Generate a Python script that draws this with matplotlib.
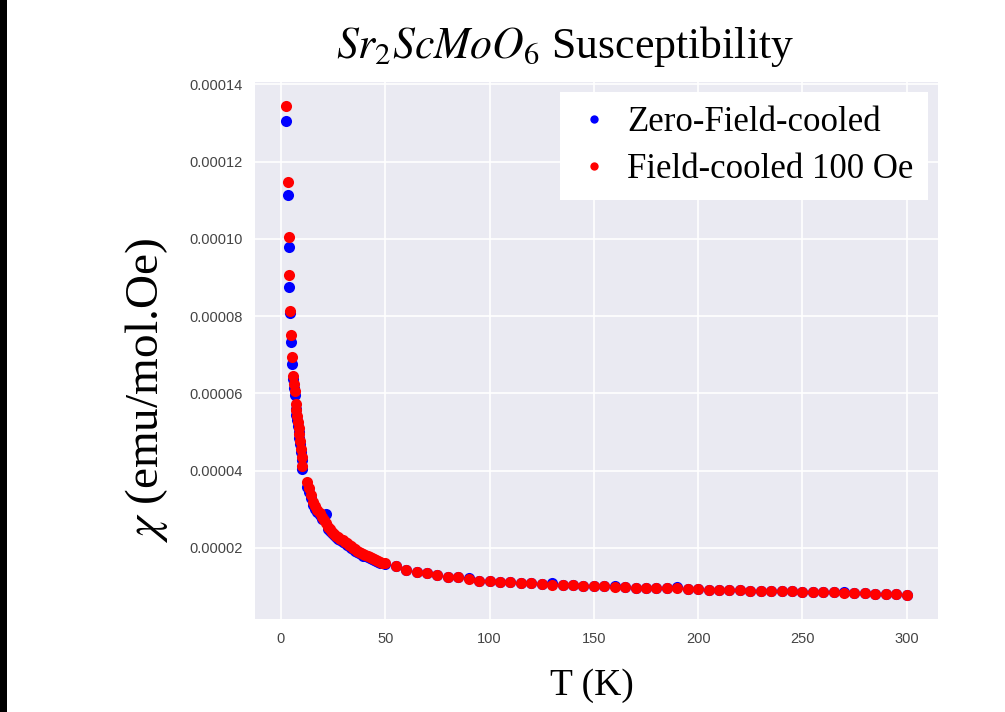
#!/usr/bin/env python
# coding: utf-8
"""
Magnetic susceptibility of Sr2ScMoO6, zero-field-cooled and field-cooled (100 Oe).
"""
import numpy as np
import matplotlib
matplotlib.use('Agg')
from matplotlib import pyplot as plt
from matplotlib.patches import Rectangle


# temperatures (K)
T_LOW = [2.4, 3.2, 3.6, 4.0, 4.4, 5.0, 5.3, 5.8, 6.2, 6.7, 7.0, 7.3, 7.6, 8.0,
         8.4, 8.8, 9.1, 9.5, 9.9, 10.3, 12.5, 13.5, 14.5, 15.5, 16.5, 17.5,
         18.5, 19.5, 20.5, 21.5, 22.5, 23.5, 24.5, 25.5, 26.5, 27.5, 28.5,
         29.5, 30.5, 31.5, 32.5, 33.5, 34.5, 35.5, 36.5, 37.5, 38.5, 39.5,
         40.5, 41.5, 42.5, 43.5, 44.5, 45.5, 46.5, 47.5, 48.5]
T_HIGH = [50, 55, 60, 65, 70, 75, 80, 85, 90, 95, 100, 105, 110, 115, 120,
          125, 130, 135, 140, 145, 150, 155, 160, 165, 170, 175, 180, 185,
          190, 195, 200, 205, 210, 215, 220, 225, 230, 235, 240, 245, 250,
          255, 260, 265, 270, 275, 280, 285, 290, 295, 300]

# field-cooled 100 Oe (emu/mol.Oe)
CHI_FC_LOW = [1.344e-4, 1.148e-4, 1.005e-4, 9.06e-5, 8.14e-5, 7.50e-5, 6.93e-5,
              6.45e-5, 6.25e-5, 6.06e-5, 5.72e-5, 5.57e-5, 5.42e-5, 5.27e-5,
              5.11e-5, 4.95e-5, 4.77e-5, 4.55e-5, 4.35e-5, 4.13e-5, 3.70e-5,
              3.55e-5, 3.38e-5, 3.20e-5, 3.08e-5, 2.98e-5, 2.90e-5, 2.80e-5,
              2.72e-5, 2.64e-5, 2.55e-5, 2.48e-5, 2.42e-5, 2.37e-5, 2.32e-5,
              2.28e-5, 2.24e-5, 2.20e-5, 2.16e-5, 2.12e-5, 2.08e-5, 2.04e-5,
              2.00e-5, 1.96e-5, 1.93e-5, 1.90e-5, 1.87e-5, 1.84e-5, 1.81e-5,
              1.79e-5, 1.76e-5, 1.73e-5, 1.70e-5, 1.68e-5, 1.66e-5, 1.64e-5,
              1.62e-5]
CHI_FC_HIGH = [1.60e-5, 1.53e-5, 1.43e-5, 1.38e-5, 1.34e-5, 1.30e-5, 1.24e-5,
               1.24e-5, 1.19e-5, 1.15e-5, 1.15e-5, 1.12e-5, 1.11e-5, 1.10e-5,
               1.08e-5, 1.07e-5, 1.05e-5, 1.04e-5, 1.03e-5, 1.02e-5, 1.00e-5,
               1.00e-5, 0.99e-5, 0.98e-5, 0.97e-5, 0.97e-5, 0.96e-5, 0.96e-5,
               0.95e-5, 0.93e-5, 0.93e-5, 0.92e-5, 0.92e-5, 0.91e-5, 0.91e-5,
               0.89e-5, 0.88e-5, 0.88e-5, 0.87e-5, 0.87e-5, 0.86e-5, 0.86e-5,
               0.86e-5, 0.85e-5, 0.83e-5, 0.82e-5, 0.82e-5, 0.81e-5, 0.80e-5,
               0.80e-5, 0.79e-5]

# zero-field-cooled (emu/mol.Oe)
CHI_ZFC_LOW = [1.305e-4, 1.115e-4, 9.79e-5, 8.76e-5, 8.07e-5, 7.33e-5, 6.76e-5,
               6.37e-5, 6.15e-5, 5.95e-5, 5.60e-5, 5.45e-5, 5.30e-5, 5.15e-5,
               5.00e-5, 4.85e-5, 4.68e-5, 4.47e-5, 4.27e-5, 4.05e-5, 3.57e-5,
               3.45e-5, 3.30e-5, 3.10e-5, 3.00e-5, 2.92e-5, 2.84e-5, 2.76e-5,
               2.86e-5, 2.88e-5, 2.50e-5, 2.43e-5, 2.38e-5, 2.33e-5, 2.28e-5,
               2.24e-5, 2.20e-5, 2.16e-5, 2.12e-5, 2.08e-5, 2.04e-5, 2.00e-5,
               1.96e-5, 1.92e-5, 1.89e-5, 1.86e-5, 1.83e-5, 1.80e-5, 1.78e-5,
               1.76e-5, 1.73e-5, 1.70e-5, 1.68e-5, 1.66e-5, 1.64e-5, 1.62e-5,
               1.61e-5]
CHI_ZFC_HIGH = [1.59e-5, 1.52e-5, 1.43e-5, 1.38e-5, 1.34e-5, 1.30e-5, 1.24e-5,
                1.24e-5, 1.22e-5, 1.15e-5, 1.15e-5, 1.12e-5, 1.11e-5, 1.10e-5,
                1.08e-5, 1.07e-5, 1.08e-5, 1.04e-5, 1.03e-5, 1.02e-5, 1.00e-5,
                1.00e-5, 1.02e-5, 0.98e-5, 0.97e-5, 0.97e-5, 0.96e-5, 0.96e-5,
                0.98e-5, 0.93e-5, 0.93e-5, 0.92e-5, 0.92e-5, 0.91e-5, 0.91e-5,
                0.89e-5, 0.88e-5, 0.88e-5, 0.87e-5, 0.87e-5, 0.86e-5, 0.86e-5,
                0.86e-5, 0.85e-5, 0.86e-5, 0.82e-5, 0.82e-5, 0.81e-5, 0.80e-5,
                0.80e-5, 0.79e-5]

LABELS = ['Zero-Field-cooled', 'Field-cooled 100 Oe']


def plot_susceptibility(fplot='out.png'):
    plt.style.use('seaborn-v0_8-darkgrid')
    plt.rcParams['mathtext.fontset'] = 'stix'
    serif = ['Liberation Serif', 'DejaVu Serif']
    sans = ['Liberation Sans', 'DejaVu Sans']

    temps = np.array(T_LOW + T_HIGH)
    chi_zfc = np.array(CHI_ZFC_LOW + CHI_ZFC_HIGH)
    chi_fc = np.array(CHI_FC_LOW + CHI_FC_HIGH)

    fig = plt.figure(figsize=(10.05, 7.12), dpi=100)
    fig.patch.set_facecolor('white')
    # black strip on the left border of the original screenshot
    fig.patches.append(Rectangle((0, 0), 7 / 1005., 1, transform=fig.transFigure,
                                 facecolor='black', edgecolor='none'))
    ax = fig.add_axes([0.2537, 0.1306, 0.6793, 0.7547])
    ax.set_facecolor('#EAEAF2')

    ax.plot(temps, chi_zfc, 'o', color='blue', ms=8, mec='none', label=LABELS[0])
    ax.plot(temps, chi_fc, 'o', color='red', ms=8, mec='none', label=LABELS[1])

    ax.set_xticks([0, 50, 100, 150, 200, 250, 300])
    ax.set_yticks([0.00002, 0.00004, 0.00006, 0.00008, 0.00010, 0.00012, 0.00014])
    ax.set_yticklabels(['0.00002', '0.00004', '0.00006', '0.00008',
                        '0.00010', '0.00012', '0.00014'])
    ax.tick_params(length=0, pad=9, labelsize=10.5, labelcolor='#444444')
    for lbl in ax.get_xticklabels() + ax.get_yticklabels():
        lbl.set_family(sans)
    ax.grid(True, color='white', linewidth=1.2)
    for sp in ax.spines.values():
        sp.set_visible(False)

    fig.text(0.562, 0.935, r'$Sr_2ScMoO_6$ Susceptibility', ha='center',
             va='center', fontsize=31.5, family=serif, color='black')
    fig.text(0.146, 0.452, r'$\chi$ (emu/mol.Oe)', ha='center', va='center',
             rotation=90, fontsize=34, family=serif, color='black')
    fig.text(0.589, 0.037, 'T (K)', ha='center', va='center', fontsize=27,
             family=serif, color='black')

    leg = ax.legend(loc='upper right', bbox_to_anchor=(0.923, 0.871),
                    bbox_transform=fig.transFigure, frameon=True, fancybox=False,
                    facecolor='white', edgecolor='none', framealpha=1,
                    markerscale=0.75, handlelength=1.2, handletextpad=0.35,
                    labelspacing=0.42, borderpad=0.4, borderaxespad=0,
                    prop={'family': serif, 'size': 25})
    for txt in leg.get_texts():
        txt.set_color('black')

    fig.savefig(fplot, dpi=100, facecolor='white')


if __name__ == '__main__':
    plot_susceptibility('out.png')
